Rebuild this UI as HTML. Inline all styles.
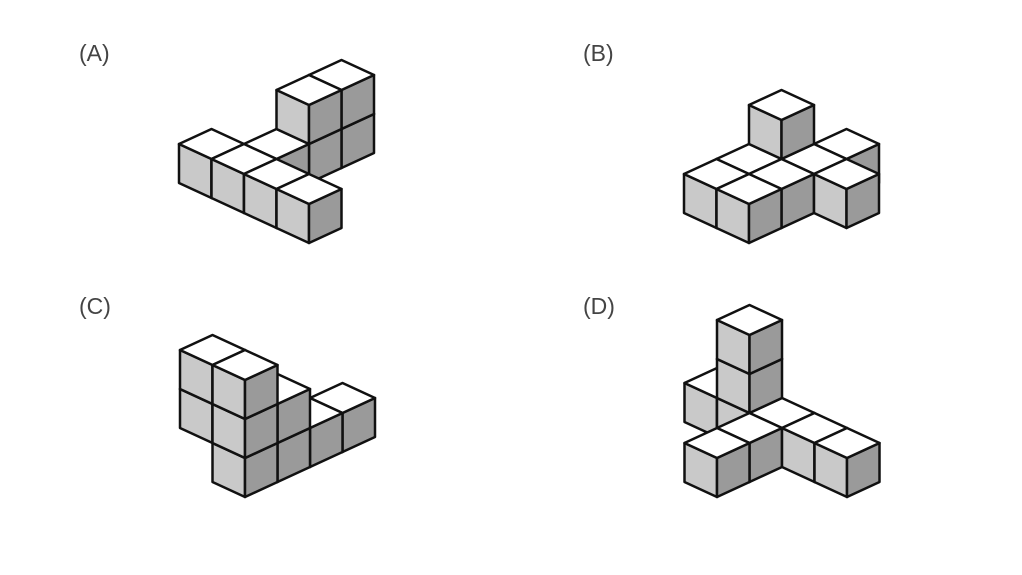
<!DOCTYPE html>
<html><head><meta charset="utf-8">
<style>
html,body{margin:0;padding:0;background:#fff;width:1022px;height:575px;overflow:hidden}
.lbl{position:absolute;font-family:"Liberation Sans",sans-serif;font-size:23px;color:#444;font-weight:normal}
svg{position:absolute;left:0;top:0}
</style></head><body>
<div class="lbl" style="left:79px;top:40px">(A)</div>
<div class="lbl" style="left:583px;top:40px">(B)</div>
<div class="lbl" style="left:79px;top:293px">(C)</div>
<div class="lbl" style="left:583px;top:293px">(D)</div>
<svg id="s" width="1022" height="575" viewBox="0 0 1022 575"></svg>
<script>
var U=[32.5,-15],V=[-32.5,-15],H=39;
var shapes=[
 {o:[309,243],c:[[0,0,0],[0,1,0],[0,2,0],[0,3,0],[1,2,0],[2,2,0],[2,2,1],[3,2,0],[3,2,1]]},
 {o:[749,243],c:[[0,0,0],[0,1,0],[1,1,0],[1,0,0],[2,0,0],[3,0,0],[2,-1,0],[2,1,0],[2,1,1]]},
 {o:[245,497],c:[[0,0,0],[0,0,1],[0,0,2],[0,1,1],[0,1,2],[1,0,0],[1,0,1],[2,0,0],[3,0,0]]},
 {o:[717,497],c:[[0,0,0],[1,0,0],[2,0,0],[2,-1,0],[2,-2,0],[2,1,0],[2,1,1],[2,1,2],[2,2,0]]}
];
var out='';
function p(a){return a.map(function(q){return q[0].toFixed(1)+','+q[1].toFixed(1)}).join(' ')}
shapes.forEach(function(s){
 var cs=s.c.slice().sort(function(a,b){return (a[2]-a[0]-a[1])-(b[2]-b[0]-b[1])});
 cs.forEach(function(c){
  var x=s.o[0]+c[0]*U[0]+c[1]*V[0], y=s.o[1]+c[0]*U[1]+c[1]*V[1]-c[2]*H;
  var F=[x,y],Ft=[x,y-H],L=[x+V[0],y+V[1]],Lt=[x+V[0],y+V[1]-H],R=[x+U[0],y+U[1]],Rt=[x+U[0],y+U[1]-H],B=[x+U[0]+V[0],y+U[1]+V[1]-H];
  var st=' stroke="#111" stroke-width="2.5" stroke-linejoin="round"';
  out+='<polygon points="'+p([F,L,Lt,Ft])+'" fill="#c9c9c9"'+st+'/>';
  out+='<polygon points="'+p([F,R,Rt,Ft])+'" fill="#9a9a9a"'+st+'/>';
  out+='<polygon points="'+p([Ft,Lt,B,Rt])+'" fill="#fff"'+st+'/>';
 });
});
document.getElementById('s').innerHTML=out;
</script>
</body></html>
